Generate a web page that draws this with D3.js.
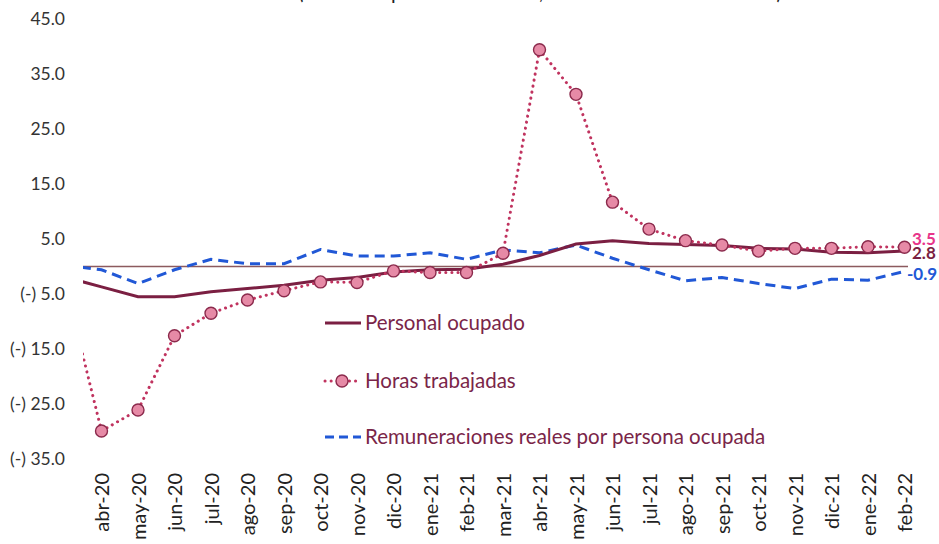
<!DOCTYPE html>
<html><head><meta charset="utf-8">
<script src="https://cdn.jsdelivr.net/npm/d3@7"></script>
<style>body{margin:0;background:#fff}svg{display:block}</style>
</head><body>
<script>
const months = ["mar-20","abr-20","may-20","jun-20","jul-20","ago-20","sep-20","oct-20","nov-20","dic-20","ene-21","feb-21","mar-21","abr-21","may-21","jun-21","jul-21","ago-21","sep-21","oct-21","nov-21","dic-21","ene-22","feb-22"];
const tickLabels = months.slice(1);
const personal = [-1.9,-3.7,-5.5,-5.5,-4.6,-4.0,-3.4,-2.5,-2.0,-1.0,-0.6,-0.5,0.4,2.0,4.1,4.7,4.2,4.0,3.8,3.3,3.2,2.6,2.5,2.8];
const horas = [-3.0,-29.9,-26.1,-12.6,-8.5,-6.1,-4.4,-2.8,-2.9,-0.8,-1.1,-1.1,2.4,39.4,31.3,11.7,6.8,4.7,3.9,2.8,3.3,3.3,3.6,3.5];
const remun = [0.2,-0.6,-3.1,-0.6,1.3,0.5,0.5,3.1,1.9,1.9,2.5,1.3,3.0,2.5,3.9,1.5,-0.6,-2.6,-2.0,-3.1,-4.0,-2.3,-2.5,-0.9];
const yTicks = [45,35,25,15,5,-5,-15,-25,-35];
const seriesNames = ["Personal ocupado","Horas trabajadas","Remuneraciones reales por persona ocupada"];
const endLabels = ["2.8","3.5","-0.9"];
const title = "(Variación porcentual anual, cifras desestacionalizadas)";

const W = 939, H = 544;
const cPers = "#7b1f42", cHorasLine = "#c0335f", cMarkFill = "#e68aa6", cMarkStroke = "#8b2a4c", cBlue = "#2158d6", cText = "#7a2548";
const font = "Lato, 'Open Sans', sans-serif";

const svg = d3.select("body").append("svg").attr("width", W).attr("height", H);

svg.append("text").attr("x", 298).attr("y", -2.5).attr("font-family", font).attr("font-size", 30)
  .attr("textLength", 484).attr("lengthAdjust", "spacingAndGlyphs").attr("fill", "#222").text(title);

const x = d3.scalePoint().domain(months).range([65, 904.5]);
const y = d3.scaleLinear().domain([-35, 45]).range([459, 19]);

svg.append("defs").append("clipPath").attr("id", "plot")
  .append("rect").attr("x", 83).attr("y", 0).attr("width", W - 83).attr("height", H);

// y labels
const fmt = v => v < 0 ? "(-) " + d3.format(".1f")(-v) : d3.format(".1f")(v);
const yAxis = d3.axisLeft(y).tickValues(yTicks).tickFormat(fmt).tickSize(0).tickPadding(0);
const gy = svg.append("g").attr("transform", "translate(65,0)").call(yAxis);
gy.select(".domain").remove();
gy.selectAll("text").attr("font-family", font).attr("font-size", 17.5).attr("fill", "#333");

// x labels
const xAxis = d3.axisBottom(x).tickValues(tickLabels).tickSize(0).tickPadding(0);
const gx = svg.append("g").attr("transform", "translate(0,473)").call(xAxis);
gx.select(".domain").remove();
gx.selectAll(".tick text").attr("font-family", font).attr("font-size", 20).attr("fill", "#222")
  .attr("text-anchor", "end").attr("y", 0).attr("x", 0)
  .attr("transform", "rotate(-90)").attr("dy", "0.35em");

// zero line
svg.append("line").attr("x1", 83).attr("x2", 908).attr("y1", y(0)).attr("y2", y(0))
  .attr("stroke", "#8c5a5e").attr("stroke-width", 1.3);

const plot = svg.append("g").attr("clip-path", "url(#plot)");
const line = d3.line().x((d, i) => x(months[i])).y(d => y(d));

plot.append("path").datum(remun).attr("d", line).attr("fill", "none").attr("stroke", cBlue)
  .attr("stroke-width", 3).attr("stroke-dasharray", "10,6");
plot.append("path").datum(personal).attr("d", line).attr("fill", "none").attr("stroke", cPers)
  .attr("stroke-width", 3);
plot.append("path").datum(horas).attr("d", line).attr("fill", "none").attr("stroke", cHorasLine)
  .attr("stroke-width", 3).attr("stroke-dasharray", "0.1,6").attr("stroke-linecap", "round");
plot.selectAll("circle.h").data(horas.slice(1)).join("circle").attr("class", "h")
  .attr("cx", (d, i) => x(months[i + 1])).attr("cy", d => y(d)).attr("r", 6)
  .attr("fill", cMarkFill).attr("stroke", cMarkStroke).attr("stroke-width", 1.4);

// end labels
const last = months.length - 1;
svg.append("text").attr("x", 912).attr("y", y(horas[last]) - 8.5).attr("dy", "0.35em")
  .attr("font-family", font).attr("font-size", 17).attr("font-weight", "bold").attr("fill", "#e8358a").text(endLabels[1]);
svg.append("text").attr("x", 912).attr("y", y(personal[last]) + 2).attr("dy", "0.35em")
  .attr("font-family", font).attr("font-size", 17).attr("font-weight", "bold").attr("fill", cPers).text(endLabels[0]);
svg.append("text").attr("x", 907).attr("y", y(remun[last]) + 3).attr("dy", "0.35em")
  .attr("font-family", font).attr("font-size", 17).attr("font-weight", "bold").attr("fill", cBlue).text(endLabels[2]);

// legend
const lg = svg.append("g");
const ly = [323, 381, 437];
lg.append("line").attr("x1", 325).attr("x2", 361).attr("y1", ly[0]).attr("y2", ly[0]).attr("stroke", cPers).attr("stroke-width", 3);
lg.append("line").attr("x1", 325).attr("x2", 361).attr("y1", ly[1]).attr("y2", ly[1]).attr("stroke", cHorasLine)
  .attr("stroke-width", 3).attr("stroke-dasharray", "0.1,6").attr("stroke-linecap", "round");
lg.append("circle").attr("cx", 342).attr("cy", ly[1]).attr("r", 6).attr("fill", cMarkFill).attr("stroke", cMarkStroke).attr("stroke-width", 1.4);
lg.append("line").attr("x1", 325).attr("x2", 361).attr("y1", ly[2]).attr("y2", ly[2]).attr("stroke", cBlue)
  .attr("stroke-width", 3).attr("stroke-dasharray", "9,5");
seriesNames.forEach((n, i) => {
  lg.append("text").attr("x", 365).attr("y", ly[i]).attr("dy", "0.35em").attr("font-family", font)
    .attr("font-size", 20.5).attr("fill", cText).text(n);
});
</script>
</body></html>
